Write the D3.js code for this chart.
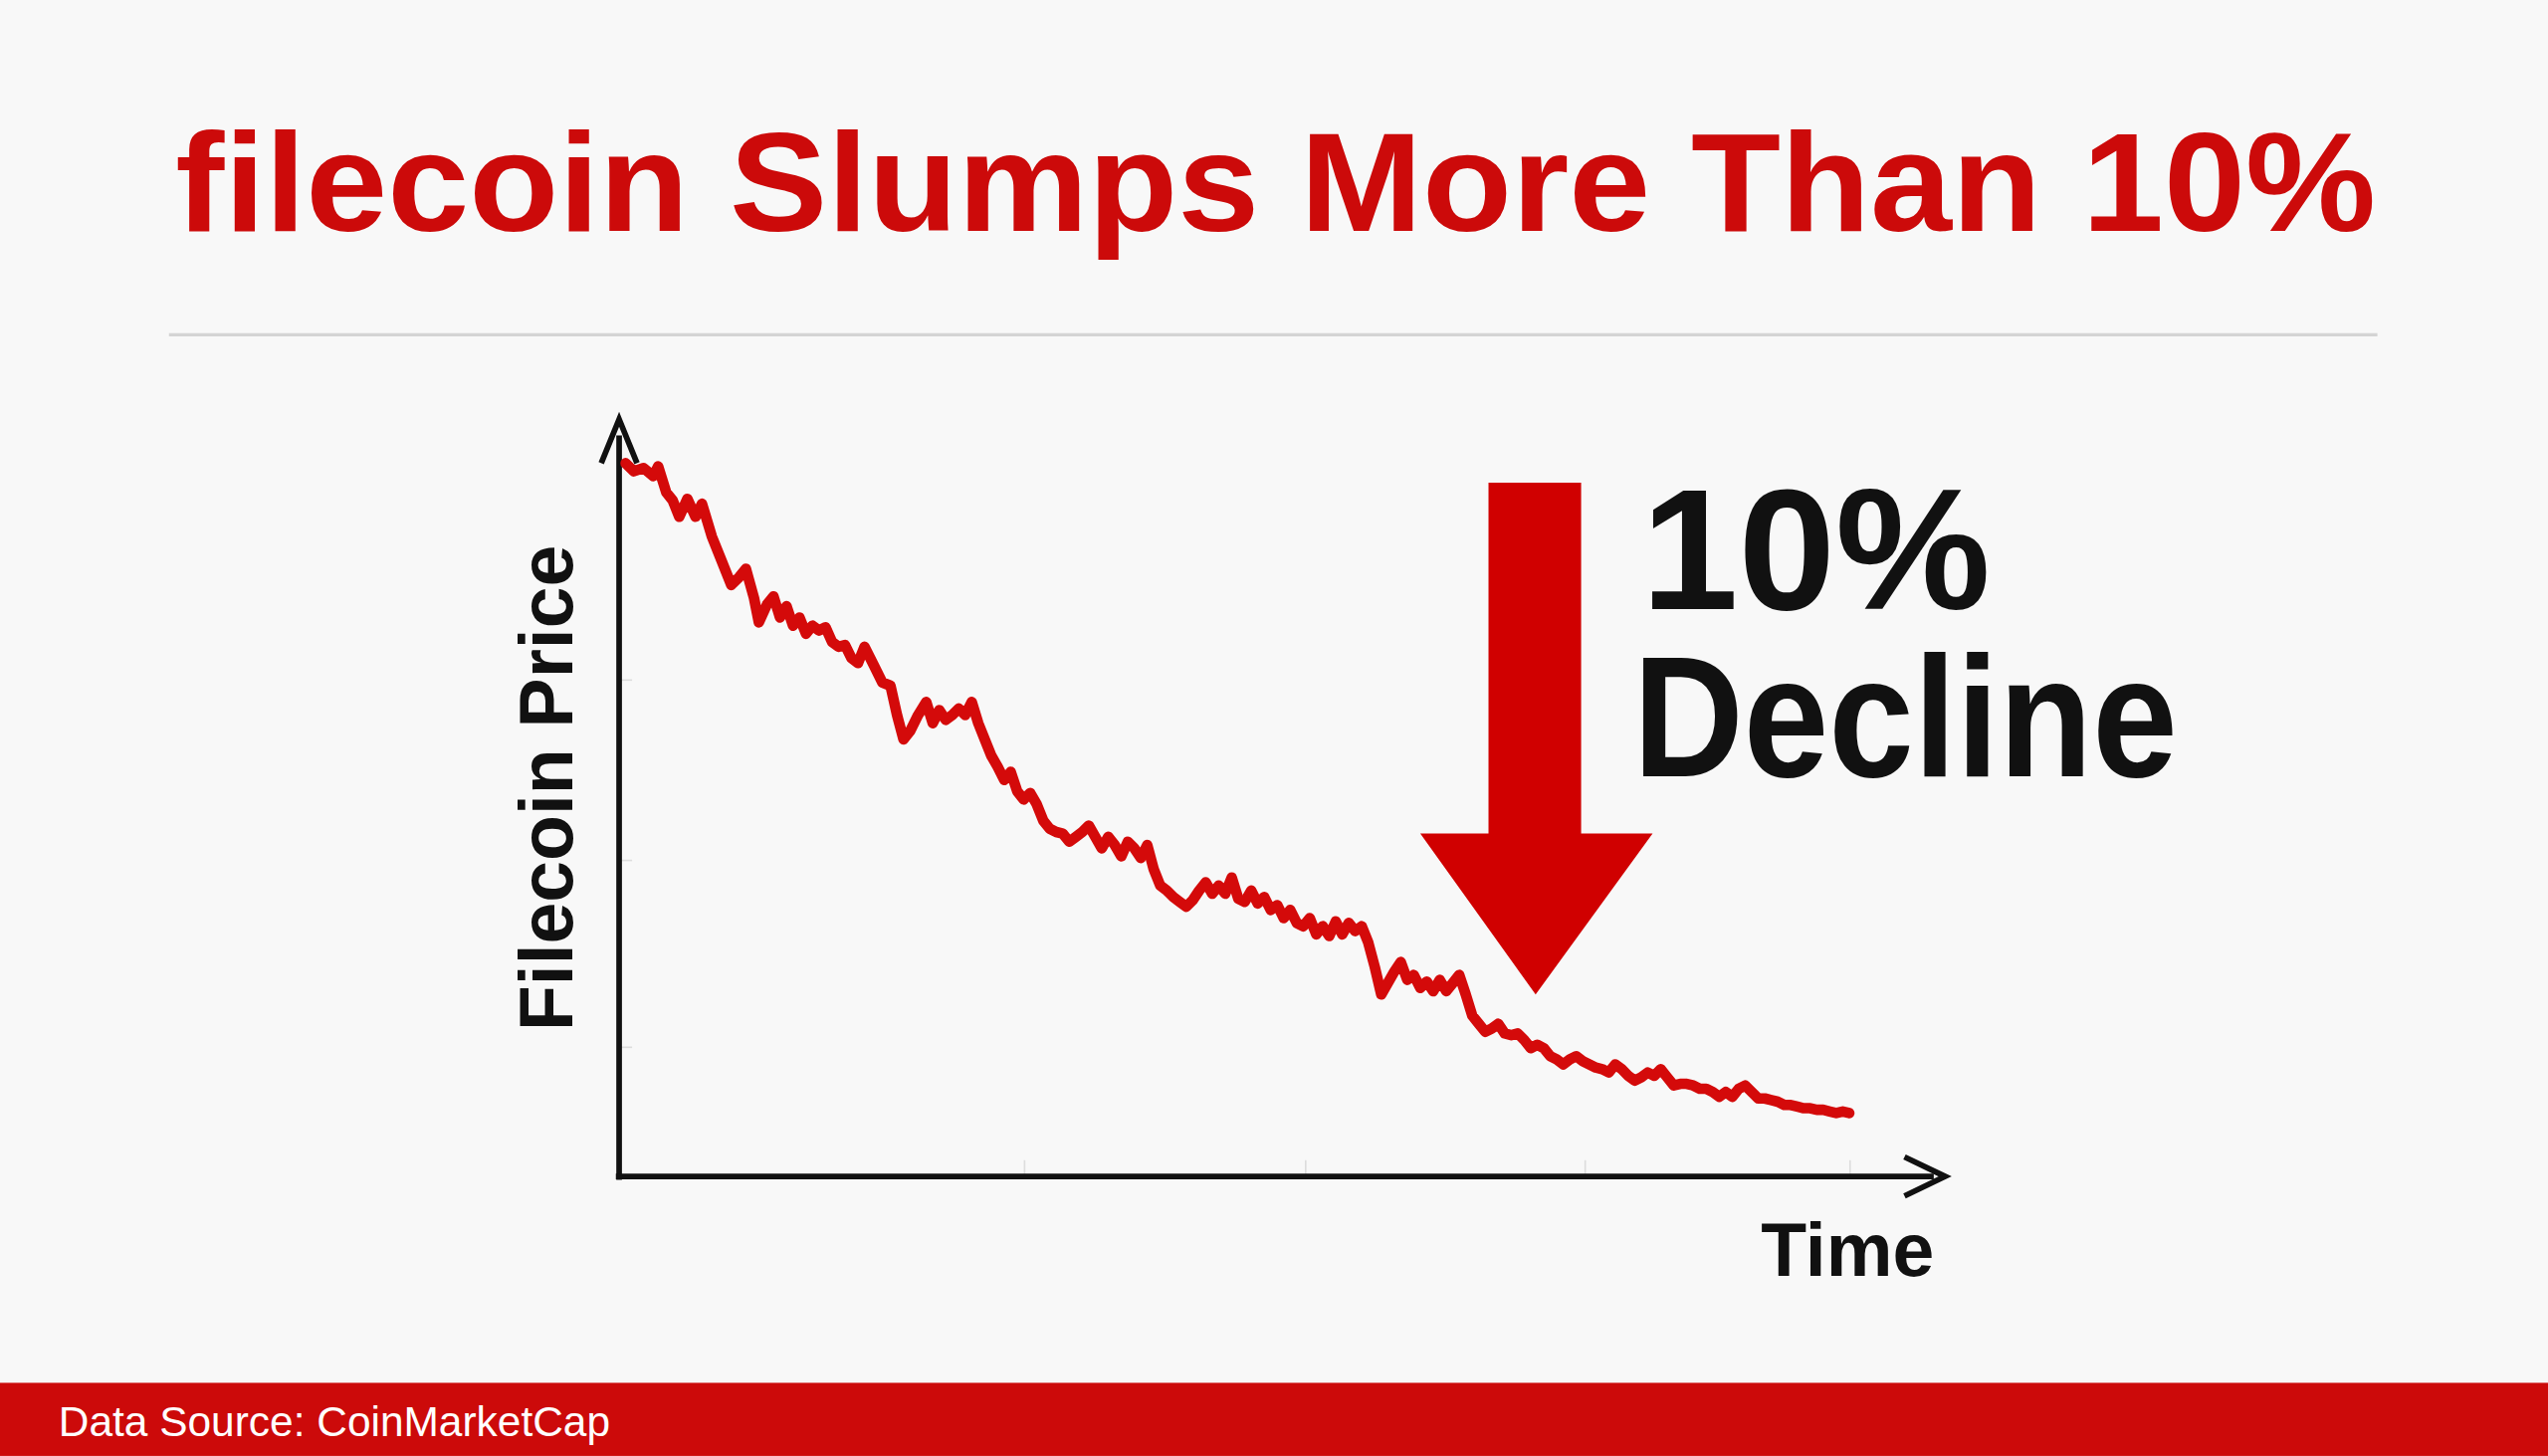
<!DOCTYPE html>
<html><head><meta charset="utf-8">
<script src="https://cdn.jsdelivr.net/npm/d3@7"></script>
<style>html,body{margin:0;padding:0;background:#f8f8f8;overflow:hidden}</style>
</head><body>
<script>
const titleText = "filecoin Slumps More Than 10%";
const yLabel = "Filecoin Price";
const xLabel = "Time";
const calloutLines = ["10%", "Decline"];
const sourceText = "Data Source: CoinMarketCap";
// [time index, price (arbitrary units)]
const priceSeries = [[0,439],[5,434],[11,436],[17,431],[20,437],[25,421],[29,416],[33,406],[38,417],[43,406],[47,414],[53,394],[59,379],[65,364],[70,369],[74,374],[79,356],[82,341],[87,352],[91,357],[95,344],[99,351],[103,339],[107,344],[111,334],[115,339],[119,336],[123,338],[127,329],[131,326],[135,327],[139,319],[143,316],[147,326],[153,314],[158,304],[163,302],[167,284],[171,269],[175,274],[180,284],[185,292],[189,279],[193,287],[197,281],[201,284],[205,288],[209,284],[213,292],[217,279],[221,269],[225,259],[229,252],[233,244],[237,249],[241,237],[245,232],[249,236],[253,229],[257,219],[261,214],[265,212],[269,211],[273,206],[277,209],[281,212],[285,216],[289,209],[293,202],[297,209],[301,204],[305,197],[309,206],[313,202],[317,196],[321,204],[325,189],[329,179],[333,176],[337,172],[341,169],[345,166],[349,170],[353,176],[357,181],[361,174],[365,179],[369,174],[373,184],[377,171],[381,169],[385,176],[389,168],[393,172],[397,164],[401,167],[405,159],[409,164],[413,156],[417,154],[421,159],[425,149],[429,154],[433,148],[437,157],[441,149],[445,156],[449,151],[453,154],[457,144],[461,129],[465,112],[469,119],[473,126],[477,132],[481,121],[485,124],[489,116],[493,120],[497,114],[501,121],[505,114],[509,119],[513,124],[517,112],[521,99],[525,94],[529,89],[533,91],[537,94],[541,88],[545,87],[549,88],[553,84],[557,79],[561,81],[565,79],[569,74],[573,72],[577,69],[581,72],[585,74],[589,71],[593,69],[597,67],[601,66],[605,64],[609,69],[613,66],[617,62],[621,59],[625,61],[629,64],[633,62],[637,66],[641,61],[645,56],[649,57],[653,57],[657,56],[661,54],[665,54],[669,52],[673,49],[677,52],[681,49],[685,54],[689,56],[693,52],[697,48],[701,48],[705,47],[709,46],[713,44],[717,44],[721,43],[725,42],[729,42],[733,41],[737,41],[741,40],[745,39],[749,40],[753,39]];
const yTicks = [80, 195, 306];
const xTicks = [245, 418, 590, 753];

const W=1568,H=896;
const svg=d3.select("body").append("svg").attr("width",2560).attr("height",1463).attr("viewBox",`0 0 ${W} ${H}`);
svg.append("rect").attr("width",W).attr("height",H).attr("fill","#f8f8f8");
const F="'Liberation Sans', Arial, sans-serif";
svg.append("text").attr("x",785).attr("y",142).attr("text-anchor","middle").attr("font-family",F).attr("font-weight","bold").attr("font-size",86).attr("fill","#cc0a0a").attr("textLength",1354).attr("lengthAdjust","spacingAndGlyphs").text(titleText);
svg.append("line").attr("x1",104).attr("x2",1463).attr("y1",206).attr("y2",206).attr("stroke","#d4d4d4").attr("stroke-width",2);

const x=d3.scaleLinear().domain([0,753]).range([385,1138]);
const y=d3.scaleLinear().domain([0,466]).range([724,258]);
const ax=381, ay=724;
const g=svg.append("g");
g.append("g").attr("transform",`translate(${ax},0)`).call(d3.axisLeft(y).tickValues(yTicks).tickSize(8).tickFormat("")).call(s=>{s.select(".domain").remove();s.selectAll("line").attr("stroke","#ddd").attr("transform","translate(8,0)");});
g.append("g").attr("transform",`translate(0,${ay})`).call(d3.axisBottom(x).tickValues(xTicks).tickSize(-10).tickFormat("")).call(s=>{s.select(".domain").remove();s.selectAll("line").attr("stroke","#ddd");});
g.append("line").attr("x1",ax).attr("x2",ax).attr("y1",ay+2).attr("y2",268).attr("stroke","#111").attr("stroke-width",3.5);
g.append("line").attr("x1",ax-2).attr("x2",1190).attr("y1",ay).attr("y2",ay).attr("stroke","#111").attr("stroke-width",3.5);
g.append("path").attr("d",`M${ax-11},${285} L${ax},${258} L${ax+11},${285}`).attr("fill","none").attr("stroke","#111").attr("stroke-width",3.5);
g.append("path").attr("d",`M1172,${ay-12} L1197,${ay} L1172,${ay+12}`).attr("fill","none").attr("stroke","#111").attr("stroke-width",3.5);

g.append("path").datum(priceSeries).attr("d",d3.line().x(d=>x(d[0])).y(d=>y(d[1]))).attr("fill","none").attr("stroke","#d40a0a").attr("stroke-width",6.5).attr("stroke-linejoin","round").attr("stroke-linecap","round");

svg.append("path").attr("d","M916,297 L973,297 L973,513 L1017,513 L945,612 L874,513 L916,513 Z").attr("fill","#d00000");
svg.append("text").attr("x",1010).attr("y",375).attr("font-family",F).attr("font-weight","bold").attr("font-size",106).attr("fill","#111").attr("textLength",215).attr("lengthAdjust","spacingAndGlyphs").text(calloutLines[0]);
svg.append("text").attr("x",1005).attr("y",478).attr("font-family",F).attr("font-weight","bold").attr("font-size",106).attr("fill","#111").attr("textLength",335).attr("lengthAdjust","spacingAndGlyphs").text(calloutLines[1]);

svg.append("text").attr("transform","translate(352,485) rotate(-90)").attr("text-anchor","middle").attr("font-family",F).attr("font-weight","bold").attr("font-size",46).attr("fill","#111").text(yLabel);
svg.append("text").attr("x",1137).attr("y",785).attr("text-anchor","middle").attr("font-family",F).attr("font-weight","bold").attr("font-size",46).attr("fill","#111").text(xLabel);

svg.append("rect").attr("x",0).attr("y",851).attr("width",W).attr("height",45).attr("fill","#cc0a0a");
svg.append("text").attr("x",36).attr("y",884).attr("font-family",F).attr("font-size",26).attr("fill","#fff").text(sourceText);
</script>
</body></html>
